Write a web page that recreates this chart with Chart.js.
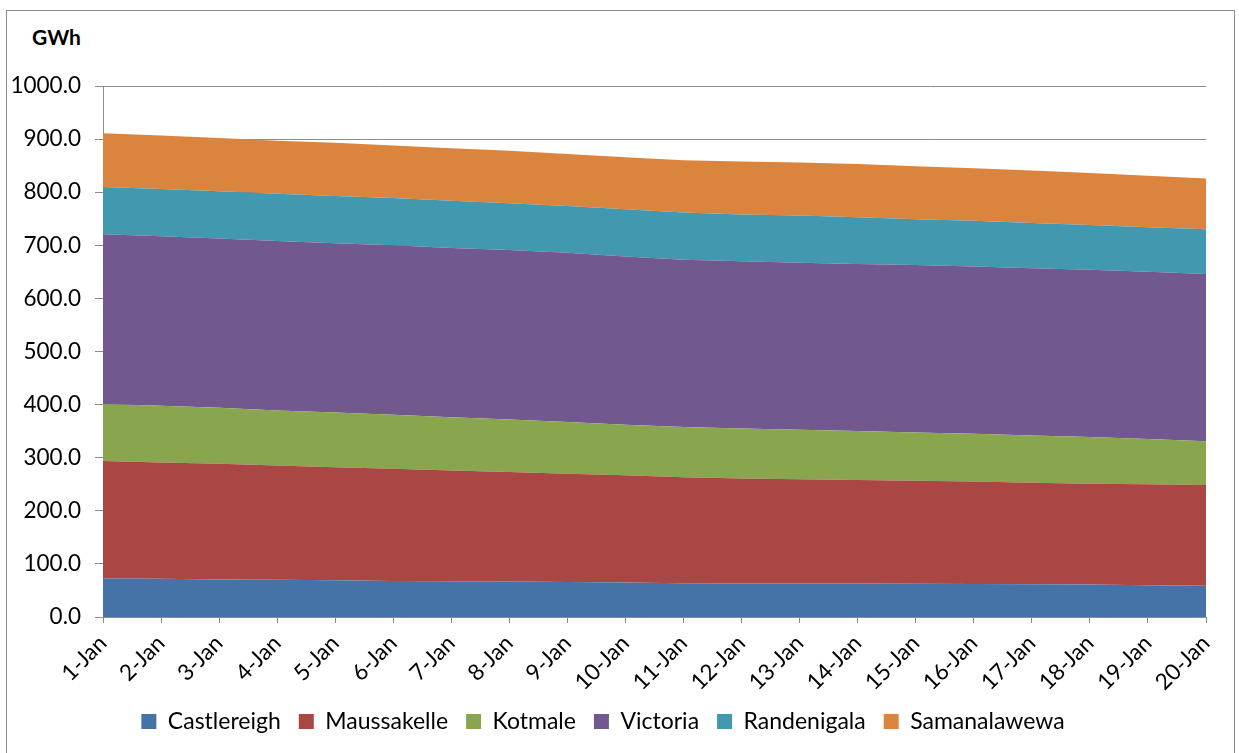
<!DOCTYPE html>
<html>
<head>
<meta charset="utf-8">
<script src="https://cdn.jsdelivr.net/npm/chart.js@4/dist/chart.umd.min.js"></script>
<style>
  html, body { margin: 0; padding: 0; background: #fff; }
  #wrap { position: relative; width: 1239px; height: 753px; overflow: hidden; }
  #frame { position: absolute; left: 6px; top: 10px; width: 1229px; height: 760px; border: 1px solid #8c8c8c; box-sizing: border-box; }
  #unit { position: absolute; left: 32px; top: 24px; font: bold 21px Lato, "Liberation Sans", sans-serif; color: #000; }
  canvas { position: absolute; left: 0; top: 0; }
</style>
</head>
<body>
<div id="wrap">
  <div id="frame"></div>
  <div id="unit">GWh</div>
  <canvas id="c" width="1239" height="753" style="width:1239px;height:753px"></canvas>
</div>
<script>
const categories = ["1-Jan","2-Jan","3-Jan","4-Jan","5-Jan","6-Jan","7-Jan","8-Jan","9-Jan","10-Jan",
  "11-Jan","12-Jan","13-Jan","14-Jan","15-Jan","16-Jan","17-Jan","18-Jan","19-Jan","20-Jan"];

const castlereigh  = [72.5,72,70.5,70,69,68,67.5,67,66,65,63.5,63,63,63,62.5,62,61.5,61,60,59];
const maussakelle  = [221.5,219,218,215.5,213,211,208.5,206,204,202,199.5,198,196.5,195,194,193,191.5,190,190,189.5];
const kotmale      = [107,107,105.5,103.5,103,102,100,99,97,95,95,94,93,92.5,91,90,89,88,85,82.5];
const victoria     = [320,319,319,319,319,319,319,319,319,317,315,315,314.5,314.5,315.5,315,315,315,315,315];
const randenigala  = [89,89,89,89,89,89,89,88,88,89,89,88,89,88,86,86,85,84,84,84];
const samanalawewa = [101,101,100,100,100,99,99,99,98,98,98,100,100,100,100,99,99,98,97,96];

const yTicks = { min: 0, max: 1000, step: 100 };

const FONT = 'Lato, "Liberation Sans", sans-serif';

function ds(label, data, color, fill) {
  return { label, data, backgroundColor: color, borderColor: color, borderWidth: 0,
           pointRadius: 0, pointHoverRadius: 0, fill, tension: 0 };
}

new Chart(document.getElementById('c'), {
  type: 'line',
  data: {
    labels: categories,
    datasets: [
      ds('Castlereigh', castlereigh, '#4572A7', 'origin'),
      ds('Maussakelle', maussakelle, '#AA4643', '-1'),
      ds('Kotmale', kotmale, '#89A54E', '-1'),
      ds('Victoria', victoria, '#71588F', '-1'),
      ds('Randenigala', randenigala, '#4198AF', '-1'),
      ds('Samanalawewa', samanalawewa, '#DB843D', '-1')
    ]
  },
  options: {
    responsive: false,
    animation: false,
    devicePixelRatio: 1,
    layout: { padding: { top: 86, right: 33, bottom: 10, left: 0 } },
    plugins: {
      tooltip: { enabled: false },
      legend: {
        position: 'bottom',
        labels: {
          font: { family: FONT, size: 23 },
          color: '#000',
          boxWidth: 15, boxHeight: 15,
          padding: 18
        }
      }
    },
    scales: {
      x: {
        type: 'category',
        offset: false,
        grid: { drawOnChartArea: false, drawTicks: true, tickLength: 6, color: '#8c8c8c' },
        border: { color: '#8c8c8c' },
        ticks: { font: { family: FONT, size: 22.5 }, color: '#000', minRotation: 45, maxRotation: 45, autoSkip: false, padding: 7 },
        afterFit: (s) => { s.height = 75; }
      },
      y: {
        stacked: true,
        min: yTicks.min, max: yTicks.max,
        grid: { color: '#8c8c8c', tickLength: 8 },
        border: { color: '#8c8c8c' },
        ticks: { stepSize: yTicks.step, font: { family: FONT, size: 22.5 }, color: '#000', padding: 14,
                 callback: (v) => Number(v).toFixed(1) },
        afterFit: (s) => { s.width = 103; }
      }
    }
  }
});
</script>
</body>
</html>
